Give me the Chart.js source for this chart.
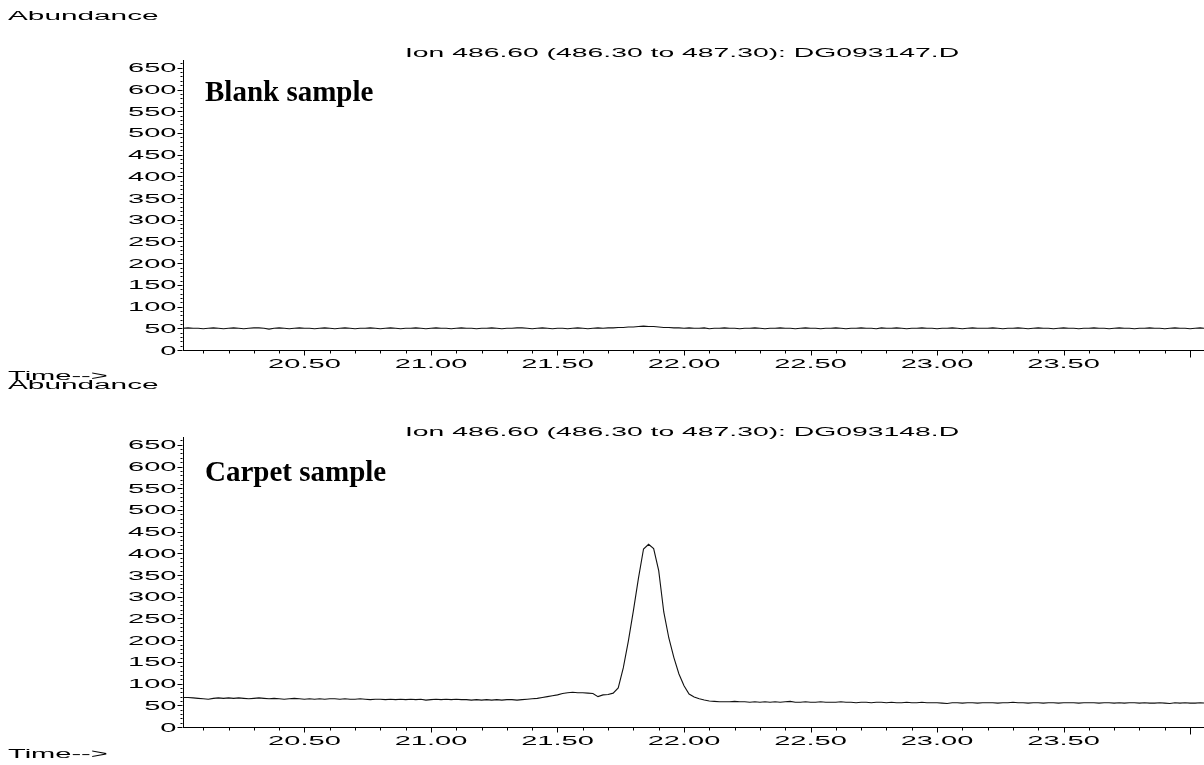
<!DOCTYPE html>
<html>
<head>
<meta charset="utf-8">
<script src="https://cdn.jsdelivr.net/npm/chart.js@4.4.1/dist/chart.umd.min.js"></script>
<style>
  html, body { margin: 0; padding: 0; background: #fff; }
  #wrap { position: relative; width: 1204px; height: 765px; overflow: hidden; background: #fff; }
  #wrap canvas { position: absolute; left: 0; top: 0; }
</style>
</head>
<body>
<div id="wrap">
  <canvas id="blank" width="1204" height="765"></canvas>
  <canvas id="carpet" width="1204" height="765"></canvas>
</div>
<script>
// Retention time (min), shared by both ion chromatograms
const retentionTime = [
  20.02,20.04,20.06,20.08,20.10,20.12,20.14,20.16,20.18,20.20,
  20.22,20.24,20.26,20.28,20.30,20.32,20.34,20.36,20.38,20.40,
  20.42,20.44,20.46,20.48,20.50,20.52,20.54,20.56,20.58,20.60,
  20.62,20.64,20.66,20.68,20.70,20.72,20.74,20.76,20.78,20.80,
  20.82,20.84,20.86,20.88,20.90,20.92,20.94,20.96,20.98,21.00,
  21.02,21.04,21.06,21.08,21.10,21.12,21.14,21.16,21.18,21.20,
  21.22,21.24,21.26,21.28,21.30,21.32,21.34,21.36,21.38,21.40,
  21.42,21.44,21.46,21.48,21.50,21.52,21.54,21.56,21.58,21.60,
  21.62,21.64,21.66,21.68,21.70,21.72,21.74,21.76,21.78,21.80,
  21.82,21.84,21.86,21.88,21.90,21.92,21.94,21.96,21.98,22.00,
  22.02,22.04,22.06,22.08,22.10,22.12,22.14,22.16,22.18,22.20,
  22.22,22.24,22.26,22.28,22.30,22.32,22.34,22.36,22.38,22.40,
  22.42,22.44,22.46,22.48,22.50,22.52,22.54,22.56,22.58,22.60,
  22.62,22.64,22.66,22.68,22.70,22.72,22.74,22.76,22.78,22.80,
  22.82,22.84,22.86,22.88,22.90,22.92,22.94,22.96,22.98,23.00,
  23.02,23.04,23.06,23.08,23.10,23.12,23.14,23.16,23.18,23.20,
  23.22,23.24,23.26,23.28,23.30,23.32,23.34,23.36,23.38,23.40,
  23.42,23.44,23.46,23.48,23.50,23.52,23.54,23.56,23.58,23.60,
  23.62,23.64,23.66,23.68,23.70,23.72,23.74,23.76,23.78,23.80,
  23.82,23.84,23.86,23.88,23.90,23.92,23.94,23.96,23.98,24.00,
  24.02,24.04,24.06
];

// Ion 486.60 abundance, blank sample (DG093147.D)
const blankAbundance = [
  50,51,50,50,49,50,51,50,49,50,
  51,50,49,50,51,51,50,48,50,51,
  50,49,50,51,50,50,49,50,51,50,
  49,50,51,50,49,50,50,51,50,49,
  50,51,50,49,50,50,51,50,49,50,
  51,50,50,49,50,51,50,50,49,50,
  50,51,50,49,50,50,51,51,50,49,
  50,51,50,49,50,50,49,50,51,50,
  49,50,51,50,51,51,52,52,53,53,
  54,55,54,54,53,52,52,51,51,50,
  51,50,50,51,49,50,50,51,50,50,
  49,50,50,51,50,49,50,50,51,50,
  50,49,50,51,50,50,49,50,50,51,
  50,49,50,50,51,50,50,49,51,50,
  50,51,50,49,50,50,51,50,50,49,
  50,50,51,50,49,50,51,50,50,50,
  51,50,49,50,50,51,50,49,50,51,
  50,50,49,50,51,50,50,49,50,50,
  51,50,50,49,50,51,50,50,49,50,
  50,51,50,50,49,50,51,50,50,49,
  50,51,50
];

// Ion 486.60 abundance, carpet sample (DG093148.D)
const carpetAbundance = [
  68,68,67,66,65,64,66,67,66,67,
  66,67,66,65,66,67,66,65,66,65,
  64,65,66,65,64,65,64,65,64,65,
  65,64,65,64,64,65,64,63,64,64,
  63,64,63,64,63,64,63,64,62,63,
  64,63,64,63,64,63,63,62,63,62,
  63,62,63,62,63,63,62,63,64,65,
  66,68,70,72,74,77,79,80,79,79,
  78,77,70,74,75,78,90,136,198,268,
  343,410,421,411,360,265,205,160,122,95,
  76,69,65,62,60,59,58,58,58,59,
  58,58,57,58,57,58,57,58,57,58,
  59,57,57,58,57,57,58,57,57,57,
  58,57,57,56,57,57,56,57,57,56,
  57,56,56,57,56,56,57,56,56,56,
  55,54,56,56,55,56,56,55,56,56,
  56,55,56,56,57,56,56,55,56,56,
  55,56,56,55,56,56,56,55,56,56,
  56,55,56,56,55,56,55,56,56,55,
  56,55,55,56,55,54,56,55,56,55,
  55,56,55
];

// Axis tick labels
const timeTickValues = [20.5, 21.0, 21.5, 22.0, 22.5, 23.0, 23.5];
const timeTickLabels = ['20.50', '21.00', '21.50', '22.00', '22.50', '23.00', '23.50'];
const abundanceTickValues = [0, 50, 100, 150, 200, 250, 300, 350, 400, 450, 500, 550, 600, 650];
const abundanceTickLabels = abundanceTickValues.map(String);

// The instrument report font is a wide sans; emulate it with a horizontal stretch
const REPORT_FONT = '12px "Liberation Sans", Arial, sans-serif';
const STRETCH = 2.42;

function wideText(ctx, text, x, y, align, stretch) {
  const sx = stretch || STRETCH;
  ctx.save();
  ctx.font = REPORT_FONT;
  const w = ctx.measureText(text).width * sx;
  const x0 = align === 'center' ? x - w / 2 : (align === 'right' ? x - w : x);
  ctx.translate(x0, y);
  ctx.scale(sx, 1);
  ctx.textAlign = 'left';
  ctx.textBaseline = 'alphabetic';
  ctx.fillStyle = '#000';
  ctx.fillText(text, 0, 0);
  ctx.restore();
}

// Draws tick marks, tick labels and the report captions around each panel
const reportDecor = {
  id: 'reportDecor',
  afterDraw(chart, args, o) {
    const ctx = chart.ctx;
    const xs = chart.scales.x, ys = chart.scales.y;
    const area = chart.chartArea;
    const axisY = Math.round(area.bottom) + 0.5;
    const axisX = Math.round(area.left) - 0.5;
    ctx.save();
    ctx.strokeStyle = '#000';
    ctx.lineWidth = 1;
    ctx.beginPath();
    // time ticks every 0.1 min, longer every 0.5 min
    for (let k = 201; k <= 240; k++) {
      const px = Math.round(xs.getPixelForValue(k / 10)) + 0.5;
      const len = k === 240 ? 7 : (k % 5 === 0 ? 5 : 3);
      ctx.moveTo(px, axisY);
      ctx.lineTo(px, axisY + len);
    }
    // abundance ticks every 10, longer every 50
    for (let v = 0; v <= 660; v += 10) {
      const py = Math.round(ys.getPixelForValue(v)) + 0.5;
      const len = v % 50 === 0 ? 5 : 2;
      ctx.moveTo(axisX, py);
      ctx.lineTo(axisX - len, py);
    }
    ctx.stroke();
    ctx.restore();

    timeTickValues.forEach((v, i) => {
      wideText(ctx, timeTickLabels[i], xs.getPixelForValue(v), axisY + 17, 'center');
    });
    abundanceTickValues.forEach((v, i) => {
      wideText(ctx, abundanceTickLabels[i], axisX - 6, ys.getPixelForValue(v) + 4.5, 'right');
    });

    wideText(ctx, 'Abundance', 8, o.abundanceY, 'left', 2.48);
    wideText(ctx, 'Time-->', 8, o.timeY, 'left');
    wideText(ctx, o.title, o.titleX, o.titleY, 'center', 2.36);

    ctx.save();
    ctx.font = 'bold 29px "Liberation Serif", "Times New Roman", serif';
    ctx.fillStyle = '#000';
    ctx.textBaseline = 'alphabetic';
    ctx.fillText(o.sample, 205, o.sampleY);
    ctx.restore();
  }
};

function makeChart(id, values, plotTop, plotBottom, decor) {
  const points = retentionTime.map((t, i) => ({ x: t, y: values[i] }));
  return new Chart(document.getElementById(id), {
    type: 'line',
    data: {
      datasets: [{
        data: points,
        borderColor: '#111',
        borderWidth: 1.1,
        pointRadius: 0,
        tension: 0,
        fill: false
      }]
    },
    options: {
      responsive: false,
      animation: false,
      devicePixelRatio: 1,
      layout: { padding: { top: plotTop, left: 0, right: 0, bottom: 0 } },
      plugins: {
        legend: { display: false },
        tooltip: { enabled: false },
        reportDecor: decor
      },
      scales: {
        x: {
          type: 'linear',
          min: 20.02,
          max: 24.055,
          grid: { display: false },
          border: { display: true, color: '#000', width: 1 },
          ticks: { display: false },
          afterFit(scale) { scale.height = 765 - plotBottom; }
        },
        y: {
          min: 0,
          max: 668,
          grid: { display: false },
          border: { display: true, color: '#000', width: 1 },
          ticks: { display: false },
          afterFit(scale) { scale.width = 183; }
        }
      }
    },
    plugins: [reportDecor]
  });
}

makeChart('blank', blankAbundance, 60, 350, {
  title: 'Ion 486.60 (486.30 to 487.30): DG093147.D',
  titleX: 682, titleY: 57,
  abundanceY: 20, timeY: 380,
  sample: 'Blank sample', sampleY: 101
});

makeChart('carpet', carpetAbundance, 437, 727, {
  title: 'Ion 486.60 (486.30 to 487.30): DG093148.D',
  titleX: 682, titleY: 436,
  abundanceY: 389, timeY: 758,
  sample: 'Carpet sample', sampleY: 481
});
</script>
</body>
</html>
